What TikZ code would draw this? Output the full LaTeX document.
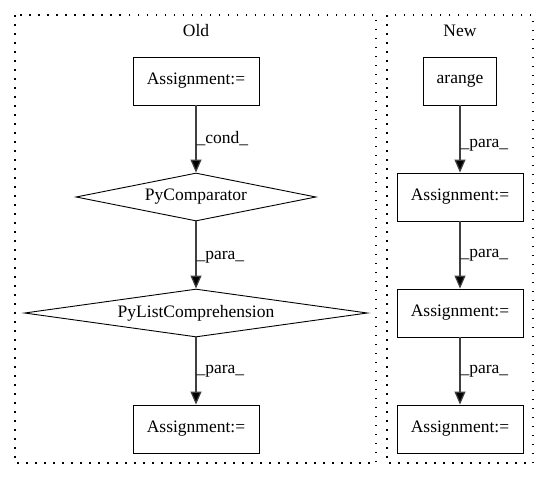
\documentclass[tikz,border=0pt]{standalone}
\usepackage{fontspec}
\setmainfont{Liberation Serif}
\usetikzlibrary{shapes.geometric,arrows.meta}
\begin{document}
\begin{tikzpicture}[x=1pt,y=-1pt,
  every node/.style={font=\fontsize{17.5}{20}\selectfont},
  box/.style={draw=black, line width=0.9pt, rectangle, minimum height=48pt, inner sep=0pt},
  dia/.style={draw=black, line width=0.9pt, diamond, inner sep=0pt},
  cluster/.style={draw=black, line width=1.2pt, dash pattern=on 1.5pt off 7.5pt},
  edge/.style={draw=black!75, line width=1.2pt, -{Triangle[length=13pt,width=11pt,fill=black]}},
  lbl/.style={anchor=west, inner sep=0pt, font=\fontsize{17.5}{20}\selectfont}]
\useasboundingbox (0,0) rectangle (549,480);
\draw[cluster] (15,15) rectangle (376,463);
\draw[cluster] (387,15) rectangle (533,463);
\node (oldt) at (196,31) {Old};
\node (newt) at (460,31) {New};
% Old
\node[box, minimum width=126pt] (oa) at (196,81) {Assignment:=};
\node[dia, minimum width=240pt, minimum height=48pt, aspect=5] (pc) at (196,197) {PyComparator};
\node[dia, minimum width=343pt, minimum height=48pt, aspect=7.1] (pl) at (196,313) {PyListComprehension};
\node[box, minimum width=126pt] (ob) at (196,429) {Assignment:=};
\draw[edge] (oa.south) -- node[lbl, pos=0.5]{\_cond\_} (pc.north);
\draw[edge] (pc.south) -- node[lbl, pos=0.53]{\_para\_} (pl.north);
\draw[edge] (pl.south) -- node[lbl, pos=0.51]{\_para\_} (ob.north);
% New
\node[box, minimum width=73pt] (ar) at (460,81) {arange};
\node[box, minimum width=126pt] (n1) at (460,197) {Assignment:=};
\node[box, minimum width=126pt] (n2) at (460,313) {Assignment:=};
\node[box, minimum width=126pt] (n3) at (460,429) {Assignment:=};
\draw[edge] (ar.south) -- node[lbl, pos=0.6]{\_para\_} (n1.north);
\draw[edge] (n1.south) -- node[lbl, pos=0.5]{\_para\_} (n2.north);
\draw[edge] (n2.south) -- node[lbl, pos=0.51]{\_para\_} (n3.north);
\end{tikzpicture}
\end{document}
